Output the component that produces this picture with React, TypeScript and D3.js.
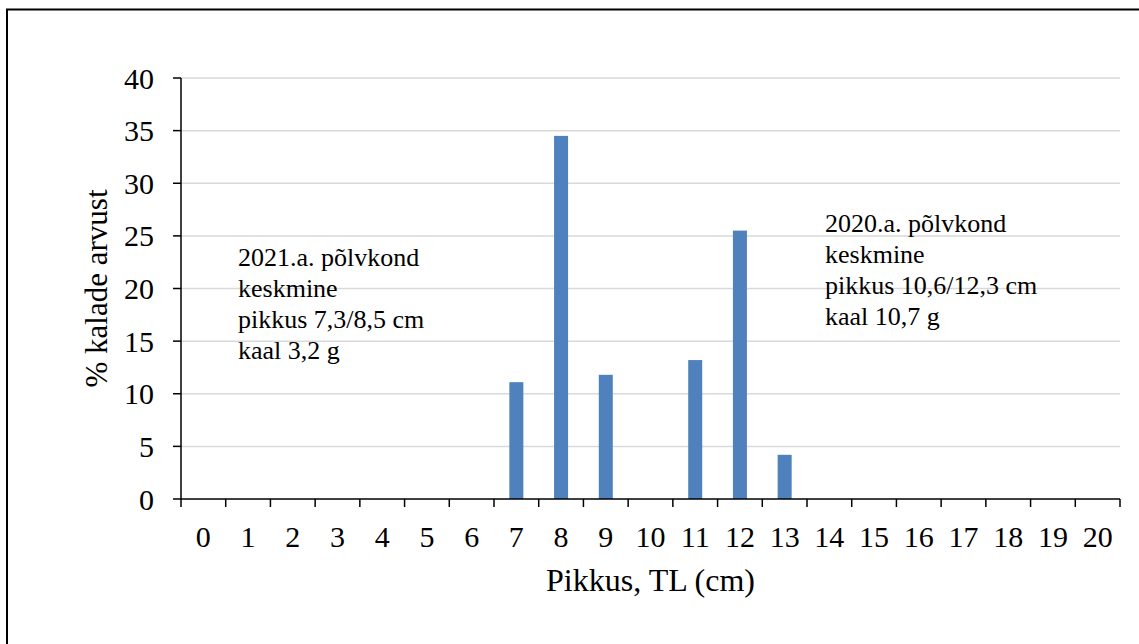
import React from "react";
import * as d3 from "d3";

const categories: string[] = ["0","1","2","3","4","5","6","7","8","9","10","11","12","13","14","15","16","17","18","19","20"];
const values: number[] = [0,0,0,0,0,0,0,11.1,34.5,11.8,0,13.2,25.5,4.2,0,0,0,0,0,0,0];
const yTicks: number[] = [0,5,10,15,20,25,30,35,40];
const noteLeft: string[] = ["2021.a. põlvkond","keskmine","pikkus 7,3/8,5 cm","kaal 3,2 g"];
const noteRight: string[] = ["2020.a. põlvkond","keskmine","pikkus 10,6/12,3 cm","kaal 10,7 g"];
const xTitle = "Pikkus, TL (cm)";
const yTitle = "% kalade arvust";

export default function App() {
  const W = 1139, H = 644;
  const left = 181, right = 1120, top = 78, bottom = 499;
  const font = "Times New Roman, Liberation Serif, Times, serif";
  const x = d3.scaleBand<string>().domain(categories).range([left, right]).padding(0);
  const y = d3.scaleLinear().domain([0, 40]).range([bottom, top]);
  const bw = 14;
  const step = x.step();
  const boundaries = d3.range(categories.length + 1).map(i => left + i * step);

  return (
    <svg width={W} height={H} style={{ position: "absolute", left: 0, top: 0, background: "#fff", fontFamily: font }}>
      <rect x={7} y={9.5} width={1300} height={800} fill="#fff" stroke="#000" strokeWidth={2} />
      {yTicks.filter(t => t > 0).map(t => (
        <line key={"g" + t} x1={left} x2={right} y1={y(t)} y2={y(t)} stroke="#d9d9d9" strokeWidth={1.5} />
      ))}
      {categories.map((c, i) => values[i] > 0 ? (
        <rect key={"b" + c} x={(x(c) as number) + step / 2 - bw / 2} y={y(values[i])} width={bw} height={y(0) - y(values[i])} fill="#4f81bd" />
      ) : null)}
      <line x1={left} x2={left} y1={top} y2={bottom} stroke="#000" strokeWidth={1.5} />
      <line x1={left} x2={right} y1={bottom} y2={bottom} stroke="#000" strokeWidth={1.5} />
      {yTicks.map(t => (
        <g key={"yt" + t}>
          <line x1={left - 8} x2={left} y1={y(t)} y2={y(t)} stroke="#000" strokeWidth={1.5} />
          <text x={154} y={y(t)} dy="0.35em" textAnchor="end" fontSize={30} fill="#000" style={{ fontFamily: font }}>{t}</text>
        </g>
      ))}
      {boundaries.map((b, i) => (
        <line key={"xt" + i} x1={b} x2={b} y1={bottom} y2={bottom + 8} stroke="#000" strokeWidth={1.5} />
      ))}
      {categories.map(c => (
        <text key={"xl" + c} x={(x(c) as number) + step / 2} y={547} textAnchor="middle" fontSize={30} fill="#000" style={{ fontFamily: font }}>{c}</text>
      ))}
      <text x={(left + right) / 2} y={591} textAnchor="middle" fontSize={32} fill="#000" style={{ fontFamily: font }}>{xTitle}</text>
      <text transform={`translate(107, ${(top + bottom) / 2}) rotate(-90)`} textAnchor="middle" fontSize={31} fill="#000" style={{ fontFamily: font }}>{yTitle}</text>
      {noteLeft.map((s, i) => (
        <text key={"nl" + i} x={238} y={266 + i * 31} fontSize={26} fill="#000" style={{ fontFamily: font }}>{s}</text>
      ))}
      {noteRight.map((s, i) => (
        <text key={"nr" + i} x={825} y={232 + i * 31} fontSize={26} fill="#000" style={{ fontFamily: font }}>{s}</text>
      ))}
    </svg>
  );
}
